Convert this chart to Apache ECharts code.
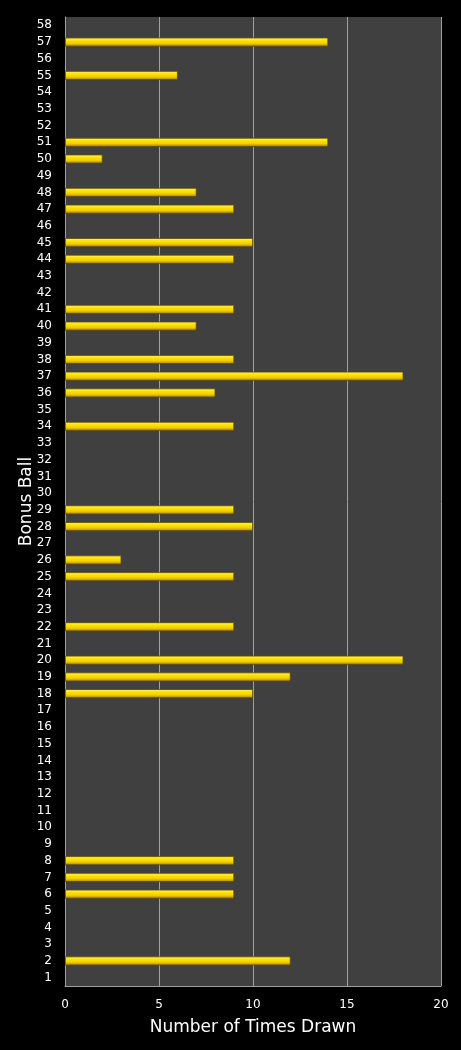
<!DOCTYPE html>
<html>
<head>
<meta charset="utf-8">
<script src="https://cdn.jsdelivr.net/npm/echarts@6/dist/echarts.min.js"></script>
<style>
  html, body { margin: 0; padding: 0; background: #000; }
  #chart { width: 461px; height: 1050px; }
</style>
</head>
<body>
<div id="chart"></div>
<script>
// bonus ball numbers 1..58, bottom to top
const balls = [];
for (let i = 1; i <= 58; i++) balls.push(String(i));

// times drawn (balls not listed were never drawn)
const drawnBalls = [2, 6, 7, 8, 18, 19, 20, 22, 25, 26, 28, 29, 34, 36, 37, 38, 40, 41, 44, 45, 47, 48, 50, 51, 55, 57];
const drawnCounts = [12, 9, 9, 9, 10, 12, 18, 9, 9, 3, 10, 9, 9, 8, 18, 9, 7, 9, 9, 10, 9, 7, 2, 14, 6, 14];

const xTicks = [0, 5, 10, 15, 20];

// no bar at all for balls never drawn
const counts = balls.map(b => {
  const k = drawnBalls.indexOf(Number(b));
  return k >= 0 ? drawnCounts[k] : null;
});

const barFill = new echarts.graphic.LinearGradient(0, 0, 0, 1, [
  { offset: 0, color: '#fff27a' },
  { offset: 0.3, color: '#ffe600' },
  { offset: 0.65, color: '#f2cc00' },
  { offset: 1, color: '#a07c00' }
]);

const chart = echarts.init(document.getElementById('chart'));
chart.setOption({
  backgroundColor: '#000',
  animation: false,
  grid: { left: 65, right: 20, top: 17, bottom: 64, backgroundColor: '#404040', show: true, borderWidth: 0 },
  xAxis: {
    type: 'value',
    min: xTicks[0],
    max: xTicks[xTicks.length - 1],
    interval: 5,
    name: 'Number of Times Drawn',
    nameLocation: 'middle',
    nameGap: 33,
    nameMoveOverlap: false,
    nameTextStyle: { color: '#fff', fontSize: 17, fontFamily: 'DejaVu Sans' },
    axisLine: { show: true, lineStyle: { color: '#a0a0a0', width: 1 } },
    axisTick: { show: false },
    axisLabel: { color: '#fff', fontSize: 12, fontFamily: 'DejaVu Sans', margin: 13 },
    splitLine: { show: true, lineStyle: { color: '#a0a0a0', width: 1 } }
  },
  yAxis: {
    type: 'category',
    data: balls,
    name: 'Bonus Ball',
    nameLocation: 'middle',
    nameGap: 30,
    nameMoveOverlap: false,
    nameTextStyle: { color: '#fff', fontSize: 17, fontFamily: 'DejaVu Sans' },
    axisLine: { show: true, lineStyle: { color: '#a0a0a0', width: 1 } },
    axisTick: { show: false },
    axisLabel: { color: '#fff', fontSize: 12, fontFamily: 'DejaVu Sans', margin: 13, interval: 0 },
    splitLine: { show: false }
  },
  series: [{
    type: 'bar',
    data: counts,
    barWidth: 9,
    itemStyle: { color: barFill, borderColor: '#5e4a00', borderWidth: 0.8 }
  }]
});
</script>
</body>
</html>
